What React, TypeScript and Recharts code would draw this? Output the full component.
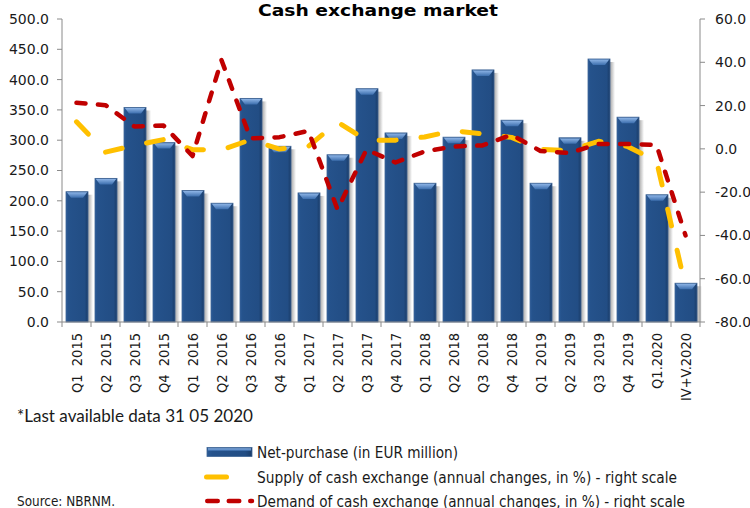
import React from 'react';
import { ComposedChart, Bar, Line, XAxis, YAxis } from 'recharts';

const categories = [
  'Q1 2015', 'Q2 2015', 'Q3 2015', 'Q4 2015',
  'Q1 2016', 'Q2 2016', 'Q3 2016', 'Q4 2016',
  'Q1 2017', 'Q2 2017', 'Q3 2017', 'Q4 2017',
  'Q1 2018', 'Q2 2018', 'Q3 2018', 'Q4 2018',
  'Q1 2019', 'Q2 2019', 'Q3 2019', 'Q4 2019',
  'Q1.2020', 'IV+V.2020',
];

const netPurchase = [215, 237, 354, 296, 217, 196, 369, 290, 213, 276, 385, 312, 229, 305, 416, 333, 229, 304, 434, 338, 210, 64];
const supply = [12.5, -1.5, 1.6, 4.3, -0.4, -0.5, 4.2, -0.1, 1.2, 12.4, 4.0, 4.0, 5.5, 8.4, 6.9, 5.3, -0.2, -0.8, 3.5, 1.1, -5.5, -63.7];
const demand = [21.3, 20.2, 10.3, 10.8, -3.3, 41.0, 4.8, 5.4, 8.3, -28.0, -0.3, -6.3, -1.2, 1.1, 1.6, 6.5, -1.0, -1.9, 2.3, 2.3, 1.8, -40.0];

const leftTicks = [0, 50, 100, 150, 200, 250, 300, 350, 400, 450, 500];
const rightTicks = [-80, -60, -40, -20, 0, 20, 40, 60];

const title = 'Cash exchange market';
const footnote = '*Last available data 31 05 2020';
const source = 'Source: NBRNM.';
const legendBar = 'Net-purchase (in EUR million)';
const legendSupply = 'Supply of cash exchange (annual changes, in %) - right scale';
const legendDemand = 'Demand of cash exchange (annual changes, in %) - right scale';

const data = categories.map((c, i) => ({
  cat: c,
  net: netPurchase[i],
  supply: supply[i],
  demand: demand[i],
}));

const AXIS = '#8a8a8a';
const TEXT = '#1a1a1a';
const YELLOW = '#FFC000';
const RED = '#C00000';
const FONT = '"DejaVu Sans", Verdana, sans-serif';
const FONT_C = '"DejaVu Sans Condensed", "DejaVu Sans", sans-serif';

const BarShape = (props: any) => {
  const { x, y, width, height } = props;
  if (!height || height <= 0) return null;
  const bev = Math.min(6, height);
  return (
    <g>
      <rect x={x + width} y={y + 3} width={5} height={height - 3} fill="url(#shadowGrad)" />
      <rect x={x} y={y} width={width} height={height} fill="url(#barGrad)" stroke="#3f6596" strokeWidth={0.8} />
      <path
        d={`M${x + 0.8},${y + 0.6} L${x + width - 0.8},${y + 0.6} L${x + width - 5},${y + bev} L${x + 5},${y + bev} Z`}
        fill="url(#bevelGrad)"
      />
    </g>
  );
};

const XTick = (props: any) => {
  const { x, y, payload, index, visibleTicksCount, width } = props;
  const off = payload && typeof payload.offset === 'number' && payload.offset > 0
    ? payload.offset
    : width / (visibleTicksCount || 22) / 2;
  const label = String(payload.value).replace(/ /g, '\u00A0\u00A0');
  const ly = y + 11;
  return (
    <g>
      <line x1={x - off} y1={y} x2={x - off} y2={y + 5} stroke={AXIS} strokeWidth={1} />
      {index === visibleTicksCount - 1 && (
        <line x1={x + off} y1={y} x2={x + off} y2={y + 5} stroke={AXIS} strokeWidth={1} />
      )}
      <text
        x={x}
        y={ly}
        dy="0.36em"
        textAnchor="end"
        transform={`rotate(-90, ${x}, ${ly})`}
        fontFamily={FONT_C}
        fontSize={14.5}
        fill={TEXT}
      >
        {label}
      </text>
    </g>
  );
};

export default function App() {
  return (
    <div style={{ position: 'absolute', left: 0, top: 0, width: 750, height: 508, background: '#fff' }}>
      <svg width={0} height={0} style={{ position: 'absolute' }}>
        <defs>
          <linearGradient id="barGrad" x1="0" y1="0" x2="1" y2="0">
            <stop offset="0%" stopColor="#2a5a96" />
            <stop offset="12%" stopColor="#25528b" />
            <stop offset="85%" stopColor="#224d84" />
            <stop offset="100%" stopColor="#1a3c68" />
          </linearGradient>
          <linearGradient id="bevelGrad" x1="0" y1="0" x2="0" y2="1">
            <stop offset="0%" stopColor="#8db4e6" />
            <stop offset="100%" stopColor="#3d6fae" />
          </linearGradient>
          <linearGradient id="shadowGrad" x1="0" y1="0" x2="1" y2="0">
            <stop offset="0%" stopColor="#000" stopOpacity={0.35} />
            <stop offset="100%" stopColor="#000" stopOpacity={0} />
          </linearGradient>
        </defs>
      </svg>
      <ComposedChart
        width={750}
        height={508}
        data={data}
        margin={{ top: 19, right: 0, bottom: 86, left: 0 }}
      >
        <XAxis
          dataKey="cat"
          xAxisId="x"
          interval={0}
          height={100}
          tickLine={false}
          tickSize={0}
          tickMargin={0}
          axisLine={{ stroke: AXIS, strokeWidth: 1 }}
          tick={<XTick />}
        />
        <YAxis
          yAxisId="left"
          orientation="left"
          width={62}
          domain={[0, 500]}
          ticks={leftTicks}
          interval={0}
          tickFormatter={(v: number) => v.toFixed(1)}
          axisLine={{ stroke: AXIS, strokeWidth: 1 }}
          tickLine={{ stroke: AXIS, strokeWidth: 1 }}
          tickSize={5}
          tickMargin={8}
          tick={{ fontFamily: FONT, fontSize: 14, fill: TEXT }}
        />
        <YAxis
          yAxisId="right"
          orientation="right"
          width={50}
          domain={[-80, 60]}
          ticks={rightTicks}
          interval={0}
          tickFormatter={(v: number) => v.toFixed(1)}
          axisLine={{ stroke: AXIS, strokeWidth: 1 }}
          tickLine={{ stroke: AXIS, strokeWidth: 1 }}
          tickSize={5}
          tickMargin={10}
          tick={{ fontFamily: FONT, fontSize: 14, fill: TEXT, textAnchor: 'start' }}
        />
        <Bar
          dataKey="net"
          xAxisId="x"
          yAxisId="left"
          barSize={22}
          shape={<BarShape />}
          isAnimationActive={false}
        />
        <Line
          dataKey="supply"
          xAxisId="x"
          yAxisId="right"
          type="linear"
          stroke={YELLOW}
          strokeWidth={5}
          strokeDasharray="17 25"
          strokeLinecap="round"
          strokeLinejoin="round"
          dot={false}
          activeDot={false}
          isAnimationActive={false}
        />
        <Line
          dataKey="demand"
          xAxisId="x"
          yAxisId="right"
          type="linear"
          stroke={RED}
          strokeWidth={4.5}
          strokeDasharray="9 12.5"
          strokeLinecap="round"
          strokeLinejoin="round"
          dot={false}
          activeDot={false}
          isAnimationActive={false}
        />
      </ComposedChart>
      <svg
        width={750}
        height={508}
        style={{ position: 'absolute', left: 0, top: 0, pointerEvents: 'none' }}
      >
        <text x={258} y={15.5} fontFamily={FONT} fontWeight="bold" fontSize={16.5} fill="#000"
          textLength={240} lengthAdjust="spacingAndGlyphs">{title}</text>
        <text x={17} y={416} dy="0.35em" fontFamily='Lato, "Open Sans", sans-serif' fontSize={18} fill={TEXT}
          textLength={236} lengthAdjust="spacingAndGlyphs">{footnote}</text>
        <text x={17} y={501} dy="0.35em" fontFamily={FONT_C} fontSize={13.5} fill={TEXT}
          textLength={98} lengthAdjust="spacingAndGlyphs">{source}</text>

        <rect x={207} y={447.5} width={45} height={9} fill="url(#barGrad)" stroke="#3f6596" strokeWidth={0.8} />
        <rect x={208} y={448.3} width={43} height={2.5} fill="url(#bevelGrad)" />
        <text x={257} y={452.5} dy="0.35em" fontFamily={FONT_C} fontSize={15} fill={TEXT}
          textLength={201} lengthAdjust="spacingAndGlyphs">{legendBar}</text>

        <line x1={206.5} y1={477} x2={226.5} y2={477} stroke={YELLOW} strokeWidth={5} strokeLinecap="round" />
        <text x={257} y={478} dy="0.35em" fontFamily={FONT_C} fontSize={15} fill={TEXT}
          textLength={420} lengthAdjust="spacingAndGlyphs">{legendSupply}</text>

        <line x1={207.25} y1={501} x2={252} y2={501} stroke={RED} strokeWidth={4.5} strokeLinecap="round"
          strokeDasharray="10.5 11" />
        <text x={257} y={501.5} dy="0.35em" fontFamily={FONT_C} fontSize={15} fill={TEXT}
          textLength={428} lengthAdjust="spacingAndGlyphs">{legendDemand}</text>
      </svg>
    </div>
  );
}
